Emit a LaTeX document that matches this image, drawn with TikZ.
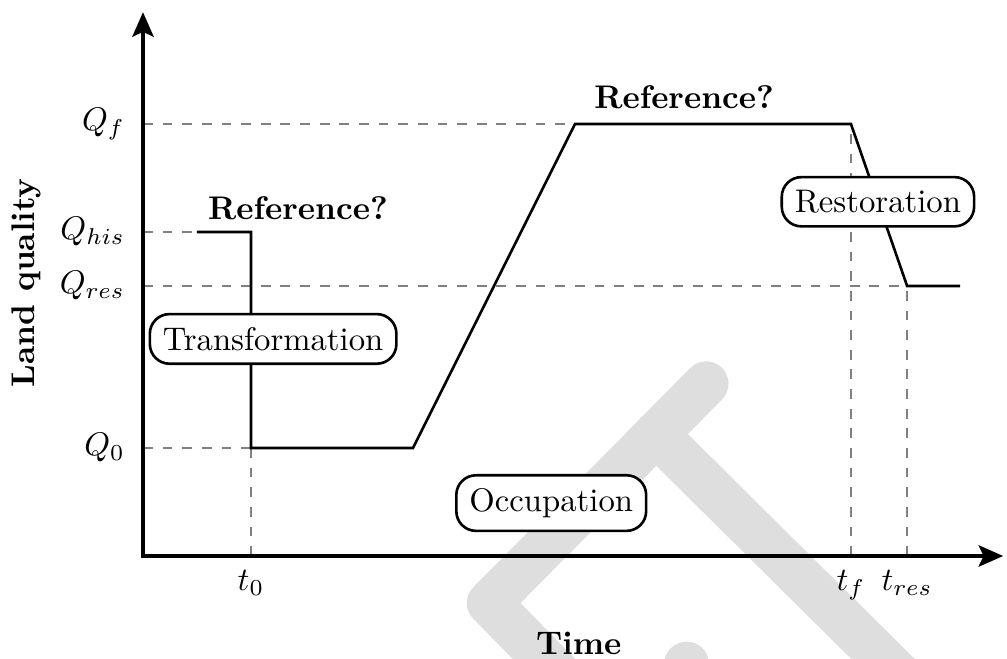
\documentclass[tikz,border=0pt]{standalone}
\usepackage{amsmath}
\usepackage{tikz}
\usetikzlibrary{arrows.meta,positioning}

\tikzset{
  axis/.style={very thick,{Stealth[length=7.5pt,width=6.5pt,inset=1.5pt]}-{Stealth[length=7.5pt,width=6.5pt,inset=1.5pt]}},
  guide/.style={dashed,semithick,gray},
  curve/.style={thick,line join=miter},
  phase/.style={draw,thick,rounded corners=6pt,fill=white,inner sep=4pt},
  wmark/.style={line width=0.48cm,line cap=round,line join=round,black!13}
}

\begin{document}
\begin{tikzpicture}[x=0.58cm,y=0.58cm]
\useasboundingbox (-2.648,-1.907) rectangle (16,10.296);

% watermark in the background
\begin{scope}
\clip (-2.648,-1.907) rectangle (16,10.296);
\draw[wmark] (10.43,3.19) -- (6.41,-0.87) -- (8.3,-2.8);
\draw[wmark] (9.5,2.26) -- (14.1,-2.3);
\draw[wmark] (10.07,-2.0) -- (10.07,-3);
\end{scope}

% key points
\coordinate (O) at (0,0);
\coordinate (xend) at (15.93,0);
\coordinate (yend) at (0,10.07);
\coordinate (yqf) at (0,8);
\coordinate (yqhis) at (0,6);
\coordinate (yqres) at (0,5);
\coordinate (yq0) at (0,2);
\coordinate (xt0) at (2,0);
\coordinate (xtf) at (13.11,0);
\coordinate (xtres) at (14.15,0);

\coordinate (his) at (1,6);
\coordinate (drop) at (2,6);
\coordinate (low) at (2,2);
\coordinate (rise) at (5,2);
\coordinate (top) at (8,8);
\coordinate (fall) at (13.11,8);
\coordinate (res) at (14.15,5);
\coordinate (last) at (15.13,5);

% dashed guides
\draw[guide] (yqf) -- (top);
\draw[guide] (yqhis) -- (his);
\draw[guide] (yqres) -- (res);
\draw[guide] (yq0) -- (low);
\draw[guide] (xt0) -- (low);
\draw[guide] (xtf) -- (fall);
\draw[guide] (xtres) -- (res);

% axes
\draw[axis] (yend) -- (O) -- (xend);

% land quality over time
\draw[curve] (his) -- (drop) -- (low) -- (rise) -- (top) -- (fall) -- (res) -- (last);

% tick labels
\node[left=2pt of yqf] (lqf) {$Q_f$};
\node[left=2pt of yqhis] (lqhis) {$Q_{his}$};
\node[left=2pt of yqres] (lqres) {$Q_{res}$};
\node[left=2pt of yq0] (lq0) {$Q_0$};
\node[below=1pt of xt0] (lt0) {$t_0$};
\node[below=1pt of xtf] (ltf) {$t_f$};
\node[below=1pt of xtres] (ltres) {$t_{res}$};

% axis titles
\node[rotate=90] (ylab) at (-2.15,5.06) {\bfseries Land quality};
\node (xlab) at (8.07,-1.62) {\bfseries Time};

% phases
\node[phase] (transf) at (2.41,4.02) {Transformation};
\node[phase] (occup) at (7.56,0.98) {Occupation};
\node[phase] (restor) at (13.61,6.56) {Restoration};

\node (ref1) at (2.87,6.44) {\bfseries Reference?};
\node (ref2) at (10.02,8.5) {\bfseries Reference?};
\end{tikzpicture}
\end{document}
